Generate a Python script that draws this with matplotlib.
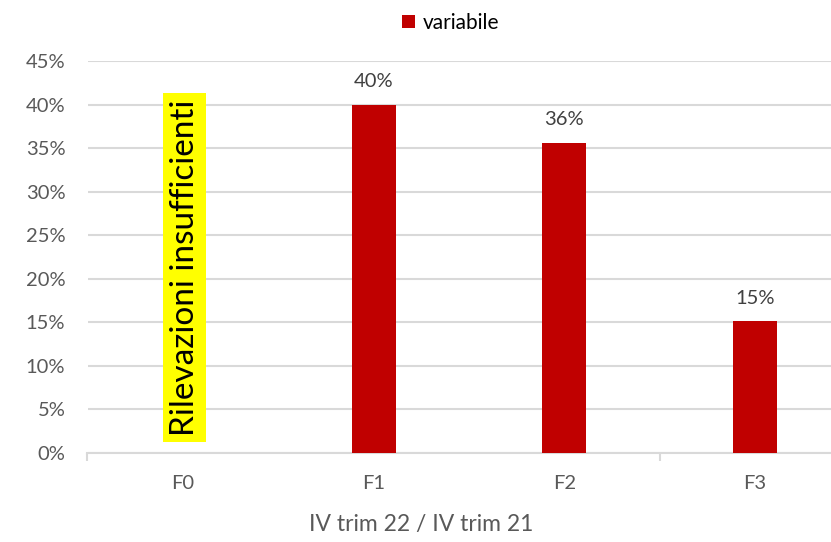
import numpy as np
import matplotlib.pyplot as plt

plt.rcParams['font.family'] = ['Lato', 'DejaVu Sans']

categorie = ["F0", "F1", "F2", "F3"]
valori = [np.nan, 0.40, 0.356, 0.151]
etichette = ["", "40%", "36%", "15%"]
yticks = np.arange(0, 0.46, 0.05)

rosso = "#c00000"
grigio = "#595959"

fig = plt.figure(figsize=(8.31, 5.42), dpi=100)
# l'area del grafico esce dal bordo destro come nell'originale
ax = fig.add_axes([87.5 / 831, 89 / 542, 763 / 831, 392 / 542])

x = np.arange(len(categorie))
barre = ax.bar(x, valori, width=0.23, color=rosso, label="variabile", zorder=3)

for xi, v, t in zip(x, valori, etichette):
    if t:
        ax.text(xi, v + 0.017, t, ha="center", va="bottom", fontsize=14.5, color="#404040")

# F0 senza dati
ax.text(0.01, 0.02, "Rilevazioni insufficienti", rotation=90, ha="center", va="bottom",
        fontsize=24, color="black",
        bbox=dict(boxstyle="square,pad=0.2", facecolor="yellow", edgecolor="none"), zorder=4)

ax.set_xlim(-0.5, 3.5)
ax.set_ylim(0, 0.45)
ax.set_yticks(yticks)
ax.set_yticklabels([f"{int(round(t * 100))}%" for t in yticks])
ax.set_xticks(x)
ax.set_xticklabels(categorie)
ax.set_xticks([-0.5, 2.5], minor=True)

ax.grid(axis="y", color="#d9d9d9", linewidth=1.5, zorder=0)
for s in ["top", "right", "left"]:
    ax.spines[s].set_visible(False)
ax.spines["bottom"].set_color("#d9d9d9")
ax.spines["bottom"].set_linewidth(1.5)

ax.tick_params(axis="y", length=0, labelsize=14.5, labelcolor=grigio, pad=16)
ax.tick_params(axis="x", which="major", length=0, labelsize=14.5, labelcolor=grigio, pad=16)
ax.tick_params(axis="x", which="minor", length=6, width=1.5, color="#d9d9d9")

fig.text(421 / 831, 1 - 525 / 542, "IV trim 22 / IV trim 21", ha="center", va="center",
         fontsize=16.5, color=grigio)

fig.legend(handles=[barre], loc="center", bbox_to_anchor=(451 / 831, 1 - 23 / 542),
           frameon=False, fontsize=15, handlelength=0.6, handleheight=0.6, handletextpad=0.4)

fig.savefig("out.png", dpi=100)
